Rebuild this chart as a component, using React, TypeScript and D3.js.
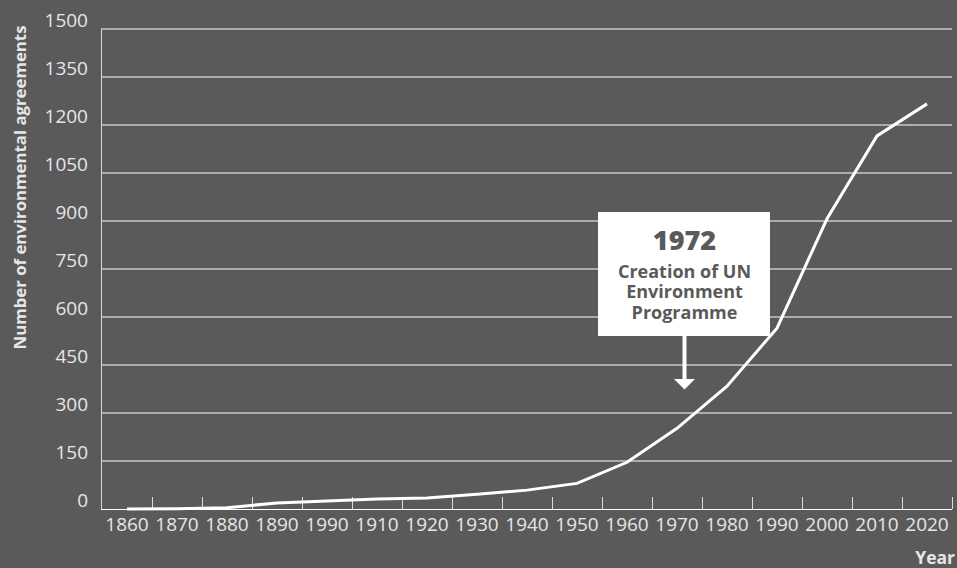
import React from "react";
import * as d3 from "d3";

const yearLabels = ["1860", "1870", "1880", "1890", "1990", "1910", "1920", "1930", "1940", "1950", "1960", "1970", "1980", "1990", "2000", "2010", "2020"];
const agreements = [0, 1, 4, 19, 25, 31, 34, 46, 59, 80, 146, 252, 384, 565, 907, 1166, 1266];
const yTicks = [0, 150, 300, 450, 600, 750, 900, 1050, 1200, 1350, 1500];
const annotationYear = "1972";
const annotationLines = ["Creation of UN", "Environment", "Programme"];

const W = 957;
const H = 568;
const BG = "#5a5a5a";
const TXT = "#e6e6e6";
const FONT = "'Open Sans', sans-serif";

export default function App() {
  const keys = yearLabels.map((_, i) => String(i));
  const x = d3.scaleBand<string>().domain(keys).range([102, 952]).padding(0);
  const y = d3.scaleLinear().domain([0, 1500]).range([509, 29]);
  const line = d3
    .line<number>()
    .x((_, i) => (x(String(i)) as number) + x.bandwidth() / 2)
    .y((d) => y(d));

  const boxX = 598, boxY = 212, boxW = 172, boxH = 124;
  const ax = boxX + boxW / 2 + 0.5;

  return (
    <svg width={W} height={H} style={{ position: "absolute", left: 0, top: 0, display: "block" }} fontFamily={FONT}>
      <rect x={0} y={0} width={W} height={H} fill={BG} />
      {yTicks.map((t) => (
        <g key={t}>
          {t > 0 && <line x1={101} x2={952} y1={y(t)} y2={y(t)} stroke="#ffffff" strokeWidth={1} />}
          <text x={88} y={y(t) - 1.7} textAnchor="end" fontSize={19} fill={TXT}>
            {t}
          </text>
        </g>
      ))}
      <line x1={101.5} x2={101.5} y1={29} y2={509} stroke="#d8d8d8" strokeWidth={1} />
      <line x1={101} x2={952} y1={509.5} y2={509.5} stroke="#ffffff" strokeWidth={1.2} />
      {keys.map((k, i) => {
        const x0 = x(k) as number;
        return (
          <g key={k}>
            {i > 0 && <line x1={x0 + 0.5} x2={x0 + 0.5} y1={497} y2={509} stroke="#dddddd" strokeWidth={1} />}
            <text x={x0 + x.bandwidth() / 2} y={531} textAnchor="middle" fontSize={19} fill={TXT}>
              {yearLabels[i]}
            </text>
          </g>
        );
      })}
      <line x1={952.5} x2={952.5} y1={497} y2={509} stroke="#dddddd" strokeWidth={1} />
      <path d={line(agreements) as string} fill="none" stroke="#ffffff" strokeWidth={3} strokeLinejoin="miter" />
      <text
        transform={`translate(26,187.5) rotate(-90)`}
        textAnchor="middle"
        fontSize={16.8}
        fontWeight="bold"
        fill={TXT}
      >
        Number of environmental agreements
      </text>
      <text x={955} y={564} textAnchor="end" fontSize={17.5} fontWeight="bold" fill={TXT}>
        Year
      </text>
      <rect x={boxX} y={boxY} width={boxW} height={boxH} fill="#ffffff" />
      <text x={ax} y={250} textAnchor="middle" fontSize={27} fontWeight={800} fill="#5a5a5a">
        {annotationYear}
      </text>
      {annotationLines.map((l, i) => (
        <text key={l} x={ax} y={277.7 + i * 20.7} textAnchor="middle" fontSize={18} fontWeight="bold" fill="#5a5a5a">
          {l}
        </text>
      ))}
      <line x1={ax} x2={ax} y1={boxY + boxH} y2={380} stroke="#ffffff" strokeWidth={4} />
      <path d={`M${ax - 10.5},379 L${ax + 10.5},379 L${ax},389.5 Z`} fill="#ffffff" />
    </svg>
  );
}
